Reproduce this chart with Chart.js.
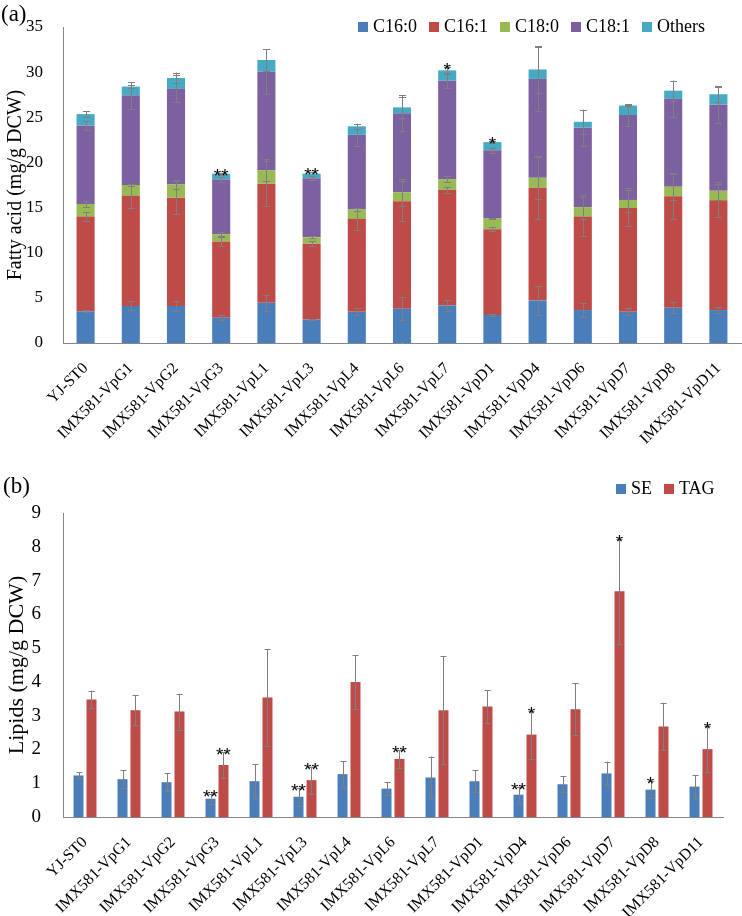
<!DOCTYPE html>
<html>
<head>
<meta charset="utf-8">
<script src="https://cdn.jsdelivr.net/npm/chart.js@4.4.1/dist/chart.umd.min.js"></script>
<style>
  body { margin: 0; background: #fff; }
  #wrap { position: relative; width: 742px; height: 916px; font-family: "Liberation Serif", "Times New Roman", Times, serif; }
  canvas { position: absolute; left: 0; }
  .tag { position: absolute; font-size: 23px; color: #000; font-family: "Liberation Serif", "Times New Roman", serif; }
  .leg { position: absolute; display: flex; align-items: center; font-size: 18px; color: #000; white-space: nowrap; font-family: "Liberation Serif", "Times New Roman", serif; }
  .leg span.box { display: inline-block; width: 10px; height: 10px; margin-right: 5px; }
  .leg span.txt { margin-right: 12px; }
</style>
</head>
<body>
<div id="wrap">
  <canvas id="grafA" width="742" height="470" style="top:0"></canvas>
  <canvas id="grafB" width="742" height="446" style="top:470px"></canvas>
  <div class="tag" style="left:1px;top:1px">(a)</div>
  <div class="tag" style="left:3px;top:473px">(b)</div>
  <div class="leg" id="legA" style="left:358px;top:16px"></div>
  <div class="leg" id="legB" style="left:616px;top:478px"></div>
</div>
<script>
// cepas
var cepas = ['YJ-ST0', 'IMX581-VpG1', 'IMX581-VpG2', 'IMX581-VpG3', 'IMX581-VpL1', 'IMX581-VpL3', 'IMX581-VpL4', 'IMX581-VpL6',
             'IMX581-VpL7', 'IMX581-VpD1', 'IMX581-VpD4', 'IMX581-VpD6', 'IMX581-VpD7', 'IMX581-VpD8', 'IMX581-VpD11'];

// (a) acidos grasos, mg/g DCW
var c160 = [3.5, 4.1, 4.1, 2.8, 4.45, 2.6, 3.45, 3.8, 4.15, 3.1, 4.7, 3.65, 3.45, 3.9, 3.65];
var c161 = [10.5, 12.2, 12.0, 8.45, 13.2, 8.4, 10.3, 11.9, 12.8, 9.5, 12.5, 10.35, 11.5, 12.35, 12.15];
var c180 = [1.4, 1.2, 1.45, 0.8, 1.5, 0.7, 1.05, 1.0, 1.2, 1.2, 1.1, 1.05, 0.9, 1.05, 1.05];
var c181 = [8.7, 9.9, 10.6, 6.05, 10.9, 6.55, 8.25, 8.75, 10.9, 7.55, 10.95, 8.8, 9.4, 9.75, 9.55];
var otros = [1.25, 1.0, 1.2, 0.65, 1.3, 0.5, 0.95, 0.65, 1.15, 0.9, 1.05, 0.65, 1.05, 0.9, 1.15];

var c160Err = [0.1, 0.5, 0.6, 0.3, 0.9, 0.1, 0.4, 1.3, 0.6, 0.1, 1.6, 0.8, 0.4, 0.6, 0.3];
var c161Err = [0.5, 1.3, 1.8, 0.5, 2.5, 0.3, 1.2, 2.2, 0.3, 0.2, 3.5, 2.2, 2.0, 2.5, 1.8];
var c180Err = [0.3, 0.1, 0.5, 0.2, 1.2, 0.1, 0.2, 1.5, 0.3, 0.1, 2.3, 1.3, 1.3, 1.5, 1.0];
var c181Err = [0.5, 1.5, 1.5, 0.3, 2.5, 0.2, 1.2, 2.0, 0.8, 0.3, 3.5, 2.0, 1.2, 2.0, 2.0];
var otrosErr = [0.3, 0.2, 0.6, 0.1, 1.2, 0.2, 0.3, 1.2, 0.4, 0.1, 2.6, 1.3, 0.1, 1.1, 0.9];
var signifA = ['', '', '', '**', '', '**', '', '', '*', '*', '', '', '', '', ''];

var ticksA = [0, 5, 10, 15, 20, 25, 30, 35];

// (b) lipidos, mg/g DCW
var SE = [1.23, 1.12, 1.03, 0.54, 1.06, 0.6, 1.27, 0.84, 1.17, 1.06, 0.66, 0.97, 1.29, 0.81, 0.9];
var seErr = [0.09, 0.27, 0.26, 0.15, 0.5, 0.26, 0.38, 0.2, 0.62, 0.32, 0.24, 0.23, 0.35, 0.25, 0.33];
var TAG = [3.48, 3.16, 3.12, 1.54, 3.54, 1.09, 4.0, 1.72, 3.16, 3.27, 2.44, 3.19, 6.68, 2.68, 2.01];
var tagErr = [0.26, 0.45, 0.53, 0.38, 1.43, 0.4, 0.8, 0.26, 1.6, 0.49, 0.71, 0.77, 1.55, 0.7, 0.68];
var signifSE = ['', '', '', '**', '', '**', '', '', '', '', '**', '', '', '*', ''];
var signifTAG = ['', '', '', '**', '', '**', '', '**', '', '', '*', '', '*', '', '*'];

var ticksB = [0, 1, 2, 3, 4, 5, 6, 7, 8, 9];

var fuente = '"Liberation Serif", "Times New Roman", serif';

// barras de error + asteriscos
var barrasError = {
    id: 'barrasError',
    afterDatasetsDraw: function (chart) {
        var ctx = chart.ctx;
        var ejeY = chart.scales.y;
        var cap = chart.options.capWidth || 3.5;
        ctx.save();
        chart.data.datasets.forEach(function (ds, i) {
            if (!ds.errores) return;
            var meta = chart.getDatasetMeta(i);
            meta.data.forEach(function (bar, j) {
                var valor = ejeY.getValueForPixel(bar.y);
                var arriba = ejeY.getPixelForValue(valor + ds.errores[j]);
                var abajo = ejeY.getPixelForValue(Math.max(0, valor - ds.errores[j]));
                var x = Math.round(bar.x) + 0.5;
                ctx.strokeStyle = '#7f7f7f';
                ctx.lineWidth = 1;
                ctx.beginPath();
                ctx.moveTo(x, arriba); ctx.lineTo(x, abajo);
                ctx.moveTo(x - cap, Math.round(arriba) + 0.5); ctx.lineTo(x + cap, Math.round(arriba) + 0.5);
                ctx.moveTo(x - cap, Math.round(abajo) + 0.5); ctx.lineTo(x + cap, Math.round(abajo) + 0.5);
                ctx.stroke();
                if (ds.signif && ds.signif[j]) {
                    ctx.fillStyle = '#000';
                    ctx.font = '19px "Liberation Sans", Arial, sans-serif';
                    ctx.textAlign = 'center';
                    ctx.textBaseline = 'alphabetic';
                    ctx.fillText(ds.signif[j], bar.x, arriba + 9);
                }
            });
        });
        ctx.restore();
    }
};

function leyenda(id, datasets) {
    var html = '';
    datasets.forEach(function (ds) {
        html += '<span class="box" style="background:' + ds.backgroundColor + '"></span><span class="txt">' + ds.label + '</span>';
    });
    document.getElementById(id).innerHTML = html;
}

function ejes(ticks, titulo, tamTick, tamTitulo, padTick, altoX, stacked) {
    return {
        x: {
            stacked: stacked,
            grid: { display: false },
            border: { display: true, color: '#868686' },
            ticks: { color: '#000', font: { family: fuente, size: 16 }, maxRotation: 45, minRotation: 45, padding: 8, autoSkip: false },
            afterFit: function (s) { s.height = altoX; }
        },
        y: {
            stacked: stacked,
            min: ticks[0],
            max: ticks[ticks.length - 1],
            grid: { display: false },
            border: { display: true, color: '#868686' },
            afterBuildTicks: function (s) { s.ticks = ticks.map(function (v) { return { value: v }; }); },
            ticks: { color: '#000', font: { family: fuente, size: tamTick }, padding: padTick },
            title: { display: true, text: titulo, color: '#000', font: { family: fuente, size: tamTitulo }, padding: { top: 4, bottom: 0 } },
            afterFit: function (s) { s.width = 63; }
        }
    };
}

var datosA = {
    labels: cepas,
    datasets: [
        { label: 'C16:0', data: c160, backgroundColor: '#4a7ebb', errores: c160Err },
        { label: 'C16:1', data: c161, backgroundColor: '#be4b48', errores: c161Err },
        { label: 'C18:0', data: c180, backgroundColor: '#98b954', errores: c180Err },
        { label: 'C18:1', data: c181, backgroundColor: '#7d60a0', errores: c181Err },
        { label: 'Others', data: otros, backgroundColor: '#46aac5', errores: otrosErr, signif: signifA }
    ]
};

var graficoA = new Chart(document.getElementById('grafA').getContext('2d'), {
    type: 'bar',
    data: datosA,
    options: {
        responsive: false,
        animation: false,
        capWidth: 3.5,
        layout: { padding: { top: 27, right: 1, left: 0, bottom: 0 } },
        datasets: { bar: { categoryPercentage: 1, barPercentage: 0.4 } },
        plugins: { legend: { display: false }, tooltip: { enabled: false } },
        scales: ejes(ticksA, 'Fatty acid (mg/g DCW)', 17, 20, 12, 127, true)
    },
    plugins: [barrasError]
});
leyenda('legA', datosA.datasets);

var datosB = {
    labels: cepas,
    datasets: [
        { label: 'SE', data: SE, backgroundColor: '#4a7ebb', errores: seErr, signif: signifSE },
        { label: 'TAG', data: TAG, backgroundColor: '#be4b48', errores: tagErr, signif: signifTAG }
    ]
};

var graficoB = new Chart(document.getElementById('grafB').getContext('2d'), {
    type: 'bar',
    data: datosB,
    options: {
        responsive: false,
        animation: false,
        capWidth: 3,
        layout: { padding: { top: 43, right: 19, left: 0, bottom: 0 } },
        datasets: { bar: { categoryPercentage: 0.59, barPercentage: 0.77 } },
        plugins: { legend: { display: false }, tooltip: { enabled: false } },
        scales: ejes(ticksB, 'Lipids (mg/g DCW)', 19, 22, 14, 99, false)
    },
    plugins: [barrasError]
});
leyenda('legB', datosB.datasets);
</script>
</body>
</html>
